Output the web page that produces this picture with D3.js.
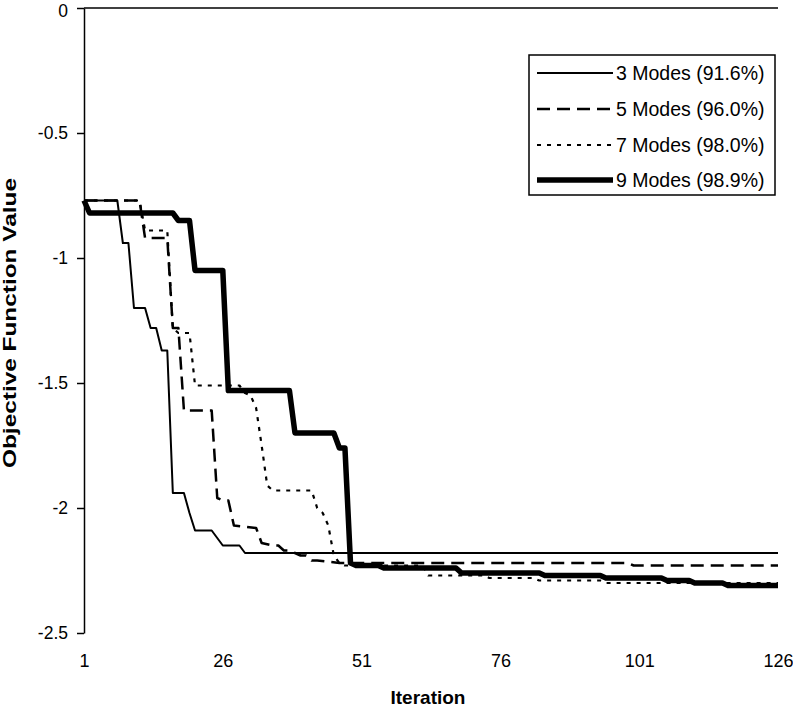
<!DOCTYPE html>
<html><head><meta charset="utf-8">
<script src="https://cdn.jsdelivr.net/npm/d3@7"></script>
<style>body{margin:0;background:#fff} svg{display:block}</style>
</head><body>
<script>
const seriesNames = ["3 Modes (91.6%)", "5 Modes (96.0%)", "7 Modes (98.0%)", "9 Modes (98.9%)"];
// [iteration, objective value] points
const modes3 = [[1,-0.77],[7,-0.77],[8,-0.94],[9,-0.94],[10,-1.20],[12,-1.20],[13,-1.28],[14,-1.28],[15,-1.37],[16,-1.37],[17,-1.94],[19,-1.94],[20,-2.02],[21,-2.09],[24,-2.09],[25,-2.12],[26,-2.15],[29,-2.15],[30,-2.18],[126,-2.18]];
const modes5 = [[1,-0.77],[11,-0.77],[12,-0.92],[16,-0.92],[17,-1.28],[18,-1.28],[19,-1.61],[24,-1.61],[25,-1.96],[26,-1.97],[27,-1.97],[28,-2.07],[32,-2.08],[33,-2.14],[35,-2.15],[36,-2.15],[37,-2.17],[38,-2.17],[39,-2.18],[40,-2.19],[41,-2.19],[42,-2.21],[43,-2.21],[47,-2.22],[99,-2.22],[100,-2.23],[126,-2.23]];
const modes7 = [[1,-0.77],[11,-0.77],[12,-0.89],[16,-0.89],[17,-1.28],[18,-1.30],[20,-1.30],[21,-1.51],[29,-1.51],[30,-1.54],[31,-1.55],[32,-1.60],[33,-1.75],[34,-1.91],[35,-1.93],[42,-1.93],[43,-2.00],[44,-2.02],[45,-2.07],[46,-2.19],[47,-2.22],[48,-2.23],[62,-2.23],[63,-2.27],[73,-2.27],[74,-2.28],[82,-2.28],[83,-2.29],[94,-2.29],[95,-2.30],[126,-2.30]];
const modes9 = [[1,-0.77],[2,-0.82],[17,-0.82],[18,-0.85],[20,-0.85],[21,-1.05],[26,-1.05],[27,-1.53],[38,-1.53],[39,-1.70],[46,-1.70],[47,-1.76],[48,-1.76],[49,-2.22],[50,-2.23],[54,-2.23],[55,-2.24],[68,-2.24],[69,-2.26],[83,-2.26],[84,-2.27],[94,-2.27],[95,-2.28],[105,-2.28],[106,-2.29],[110,-2.29],[111,-2.30],[116,-2.30],[117,-2.31],[126,-2.31]];
const xTicks = [1, 26, 51, 76, 101, 126];
const yTicks = [0, -0.5, -1, -1.5, -2, -2.5];
const xTitle = "Iteration";
const yTitle = "Objective Function Value";

const W = 793, H = 709;
const m = {left: 84, top: 8, right: 15, bottom: 76};
const svg = d3.select("body").append("svg").attr("width", W).attr("height", H)
  .style("font-family", "'Liberation Sans', Arial, sans-serif");

const x = d3.scaleLinear().domain([1, 126]).range([m.left, W - m.right]);
const y = d3.scaleLinear().domain([0, -2.5]).range([m.top, H - m.bottom]);

const styles = [
  {w: 2, dash: null},
  {w: 2.5, dash: "13,7"},
  {w: 2.2, dash: "4,6"},
  {w: 5.5, dash: null}
];
const series = [modes3, modes5, modes7, modes9];

// y axis
const yAxis = d3.axisLeft(y).tickValues(yTicks).tickSize(7).tickSizeOuter(0).tickPadding(9)
  .tickFormat(d => d === 0 ? "0" : String(d));
const gy = svg.append("g").attr("transform", `translate(${m.left},0)`).call(yAxis);
gy.selectAll("text").style("font-size", "17.5px").attr("fill", "#000")
  .attr("dy", d => d === 0 ? "0.5em" : "0.32em");
gy.selectAll("line, path").attr("stroke", "#000").attr("stroke-width", 1.5);

// top horizontal axis line at value 0
svg.append("line").attr("x1", x(1)).attr("x2", x(126)).attr("y1", y(0)).attr("y2", y(0))
  .attr("stroke", "#000").attr("stroke-width", 1.5);

// x labels (low position)
const xAxis = d3.axisBottom(x).tickValues(xTicks).tickSize(0).tickPadding(0).tickFormat(d3.format("d"));
const gx = svg.append("g").attr("transform", `translate(0,654)`).call(xAxis);
gx.select(".domain").remove();
gx.selectAll("text").style("font-size", "18px").attr("fill", "#000");

// lines
const line = d3.line().x(d => x(d[0])).y(d => y(d[1]));
series.forEach((s, i) => {
  svg.append("path").datum(s).attr("d", line).attr("fill", "none")
    .attr("stroke", "#000").attr("stroke-width", styles[i].w)
    .attr("stroke-dasharray", styles[i].dash)
    .attr("stroke-linejoin", "round");
});

// titles
svg.append("text").attr("x", 428).attr("y", 704).attr("text-anchor", "middle")
  .style("font-size", "19px").style("font-weight", "bold").text(xTitle);
svg.append("text").attr("transform", `translate(16,323) rotate(-90)`).attr("text-anchor", "middle")
  .attr("textLength", 290).attr("lengthAdjust", "spacingAndGlyphs")
  .style("font-size", "19px").style("font-weight", "bold").text(yTitle);

// legend
const lg = svg.append("g");
lg.append("rect").attr("x", 529).attr("y", 55).attr("width", 246).attr("height", 140)
  .attr("fill", "#fff").attr("stroke", "#000").attr("stroke-width", 1.5);
const rowsY = [73, 109, 145, 180];
seriesNames.forEach((n, i) => {
  lg.append("line").attr("x1", 537).attr("x2", 613).attr("y1", rowsY[i]).attr("y2", rowsY[i])
    .attr("stroke", "#000").attr("stroke-width", styles[i].w).attr("stroke-dasharray", styles[i].dash);
  lg.append("text").attr("x", 616).attr("y", rowsY[i] + 7).style("font-size", "19.5px").text(n);
});
</script>
</body></html>
